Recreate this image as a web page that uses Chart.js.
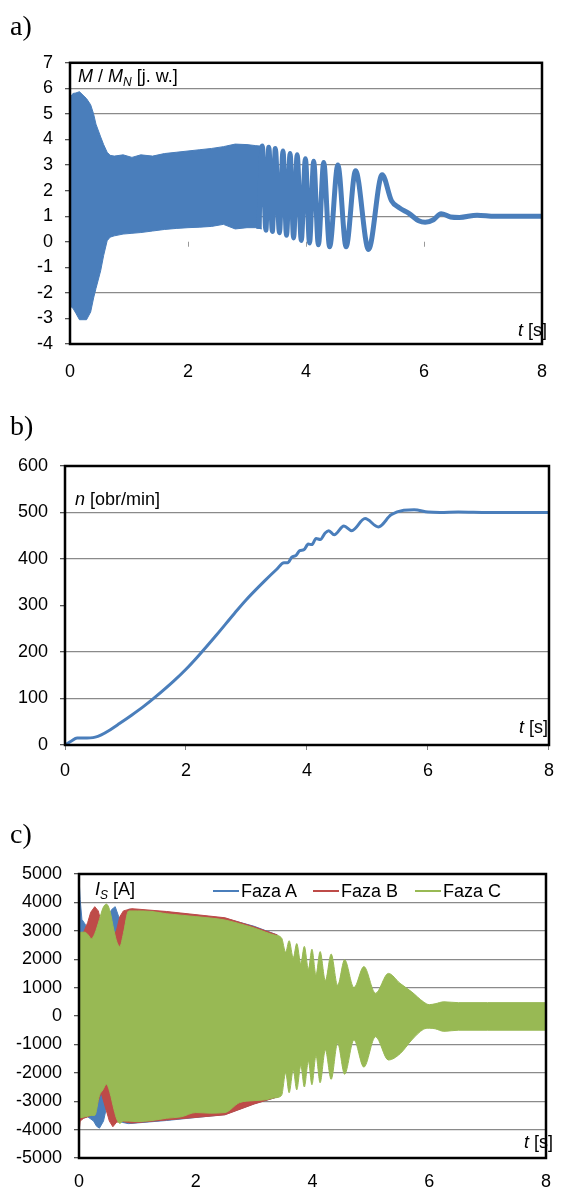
<!DOCTYPE html>
<html>
<head>
<meta charset="utf-8">
<script src="https://cdn.jsdelivr.net/npm/chart.js@4"></script>
<style>
body{margin:0;background:#fff;width:564px;height:1188px;position:relative;overflow:hidden;font-family:"Liberation Sans",Arial,sans-serif;}
canvas{position:absolute;left:0;}
.lbl{position:absolute;left:10px;font-family:"Liberation Serif","Times New Roman",serif;font-size:28px;line-height:30px;z-index:2;}
.txt{position:absolute;font-size:18px;line-height:20px;white-space:nowrap;z-index:2;}
.txt sub{font-size:12px;line-height:0;vertical-align:-4px;}
.leg{position:absolute;top:881px;font-size:18px;line-height:20px;white-space:nowrap;z-index:2;}
.leg span{display:inline-block;width:26px;height:2px;vertical-align:middle;margin-right:2px;position:relative;top:-1px;}
</style>
</head>
<body>
<div class="lbl" style="top:11px">a)</div>
<div class="lbl" style="top:411px">b)</div>
<div class="lbl" style="top:819px">c)</div>

<canvas id="chartA" width="564" height="345" style="top:40px"></canvas>
<canvas id="chartB" width="564" height="350" style="top:440px"></canvas>
<canvas id="chartC" width="564" height="338" style="top:850px"></canvas>

<div class="txt" style="left:78px;top:66px"><i>M</i> / <i>M</i><sub><i>N</i></sub> [j. w.]</div>
<div class="txt" style="right:17px;top:320px"><i>t</i> [s]</div>
<div class="txt" style="left:75px;top:489px"><i>n</i> [obr/min]</div>
<div class="txt" style="right:16px;top:717px"><i>t</i> [s]</div>
<div class="txt" style="left:95px;top:879px"><i>I</i><sub><i>S</i></sub> [A]</div>
<div class="txt" style="right:11px;top:1132px"><i>t</i> [s]</div>

<div class="leg" style="left:213px"><span style="background:#4a7ebb"></span>Faza A</div>
<div class="leg" style="left:313px"><span style="background:#be4b48"></span>Faza B</div>
<div class="leg" style="left:415px"><span style="background:#98b954"></span>Faza C</div>

<script>
// a) moment - gesty obszar jako pas miedzy obwiedniami, potem widoczne wahania
var tBand = [0, 0.02, 0.05, 0.1, 0.16, 0.28, 0.35, 0.4, 0.44, 0.52, 0.57, 0.63, 0.68, 0.75, 0.9, 1.05, 1.2, 1.4, 1.6, 1.8, 2.0, 2.2, 2.4, 2.6, 2.8, 3.0, 3.15, 3.25];
var mUpper = [5.5, 5.7, 5.8, 5.82, 5.87, 5.6, 5.36, 5.0, 4.6, 4.1, 3.8, 3.5, 3.38, 3.35, 3.4, 3.3, 3.4, 3.35, 3.45, 3.5, 3.55, 3.6, 3.65, 3.72, 3.82, 3.8, 3.76, 3.74];
var mLower = [-2.5, -2.55, -2.6, -2.8, -3.05, -3.05, -2.75, -2.2, -1.83, -1.13, -0.54, 0.04, 0.18, 0.23, 0.3, 0.33, 0.36, 0.42, 0.48, 0.52, 0.55, 0.57, 0.6, 0.68, 0.5, 0.55, 0.55, 0.5];
var tOsc = [3.2, 3.26, 3.32, 3.37, 3.43, 3.48, 3.55, 3.61, 3.67, 3.73, 3.79, 3.85, 3.92, 3.99, 4.06, 4.13, 4.21, 4.30, 4.40, 4.54, 4.68, 4.84, 5.06, 5.29, 5.45, 5.58, 5.75, 5.91, 6.02, 6.16, 6.29, 6.45, 6.6, 6.9, 7.2, 8.0];
var mOsc = [0.5, 3.75, 0.45, 3.7, 0.4, 3.65, 0.35, 3.55, 0.25, 3.45, 0.15, 3.4, 0.05, 3.25, -0.05, 3.15, -0.12, 3.1, -0.2, 3.0, -0.2, 2.78, -0.3, 2.62, 1.6, 1.33, 1.1, 0.82, 0.76, 0.86, 1.1, 0.97, 0.95, 1.04, 1.0, 1.0];

// b) predkosc obrotowa
var tSpeed = [0, 0.1, 0.2, 0.3, 0.5, 0.6, 0.75, 0.9, 1.1, 1.3, 1.5, 1.8, 2.0, 2.2, 2.5, 2.8, 3.0, 3.3, 3.5, 3.62, 3.68, 3.75, 3.82, 3.88, 3.95, 4.02, 4.08, 4.15, 4.22, 4.3, 4.36, 4.45, 4.61, 4.74, 4.96, 5.18, 5.39, 5.6, 5.77, 6.0, 6.2, 6.5, 7.0, 8.0];
var nSpeed = [0, 8, 15, 15, 17, 22, 33, 46, 64, 83, 104, 138, 163, 191, 236, 283, 313, 353, 378, 392, 392, 404, 408, 418, 420, 432, 431, 444, 442, 456, 461, 452, 471, 461, 487, 469, 495, 505, 506, 501, 500, 501, 500, 500];

// c) prady fazowe - obwiednie
var tC = [0, 0.03, 0.1, 0.16, 0.21, 0.27, 0.35, 0.41, 0.47, 0.53, 0.6, 0.65, 0.7, 0.76, 0.85, 1.0, 1.25, 1.5, 1.75, 2.0, 2.25, 2.5, 2.75, 3.0, 3.2, 3.35, 3.47, 3.54, 3.6, 3.67, 3.73, 3.8, 3.86, 3.93, 3.99, 4.06, 4.13, 4.22, 4.32, 4.43, 4.55, 4.71, 4.88, 5.08, 5.3, 5.5, 5.7, 5.9, 6.0, 6.1, 6.25, 6.5, 7.0, 8.0];
var cUp = [2900, 2950, 2950, 2850, 2720, 2900, 3400, 3800, 3940, 3700, 3000, 2600, 2450, 2900, 3700, 3700, 3680, 3600, 3550, 3500, 3450, 3380, 3250, 3100, 2950, 2850, 2750, 2250, 2650, 2050, 2550, 1850, 2450, 1650, 2350, 1450, 2270, 1250, 2180, 1080, 1980, 1000, 1740, 800, 1500, 1150, 850, 500, 400, 430, 500, 470, 470, 470];
var cLow = [-3600, -3580, -3550, -3520, -3500, -3500, -2800, -2600, -2400, -2700, -3300, -3650, -3780, -3700, -3700, -3720, -3680, -3600, -3550, -3400, -3420, -3400, -3050, -2980, -2950, -2880, -2800, -2000, -2700, -1900, -2600, -1750, -2500, -1600, -2420, -1400, -2350, -1200, -2230, -960, -2050, -845, -1800, -730, -1550, -1330, -845, -470, -430, -450, -540, -500, -500, -500];
var tA = [0, 0.02, 0.05, 0.1, 0.15, 0.25, 0.3, 0.35, 0.42, 0.5, 0.56, 0.62, 0.68, 0.75, 0.85, 1.5, 2.5, 3.0, 3.4];
var aUp = [4900, 4100, 3400, 3250, 3050, 2900, 2800, 2900, 3300, 3500, 3750, 3850, 3500, 3300, 3760, 3660, 3440, 3160, 2850];
var aLow = [-3700, -3650, -3600, -3580, -3550, -3700, -3880, -3950, -3700, -2950, -3000, -3400, -3700, -3750, -3790, -3680, -3470, -3090, -2850];
var tB = [0, 0.02, 0.08, 0.15, 0.2, 0.27, 0.33, 0.38, 0.45, 0.52, 0.58, 0.64, 0.7, 0.76, 0.9, 1.5, 2.5, 3.0, 3.4];
var bUp = [2800, 2900, 2950, 3300, 3650, 3850, 3700, 3300, 2800, 2600, 2800, 3000, 3500, 3700, 3780, 3680, 3460, 3140, 2850];
var bLow = [-4100, -3700, -3600, -3550, -3500, -3400, -3000, -2700, -3200, -3700, -3900, -3750, -3700, -3720, -3770, -3660, -3480, -3100, -2850];

var blue = "#4a7ebb", red = "#be4b48", green = "#98b954";

Chart.defaults.font.family = '"Liberation Sans", Arial, sans-serif';
Chart.defaults.font.size = 18;
Chart.defaults.color = "#000";

function pts(xs, ys) {
  return xs.map(function (x, i) { return { x: x, y: ys[i] }; });
}

var frame = {
  id: "frame",
  afterDatasetsDraw: function (chart) {
    var a = chart.chartArea, c = chart.ctx;
    c.save();
    c.strokeStyle = "#000";
    c.lineWidth = 2.5;
    c.strokeRect(a.left, a.top, a.right - a.left, a.bottom - a.top);
    c.restore();
  }
};

// kreski podzialki osi czasu lezacej na wartosci 0
var zeroTicks = {
  id: "zeroTicks",
  afterDatasetsDraw: function (chart) {
    var sx = chart.scales.x, sy = chart.scales.y, c = chart.ctx;
    var y0 = sy.getPixelForValue(0);
    c.save();
    c.strokeStyle = "#9a9a9a";
    c.lineWidth = 1;
    sx.ticks.forEach(function (t) {
      if (t.value <= 0 || t.value >= 8) return;
      var px = Math.round(sx.getPixelForValue(t.value)) + 0.5;
      c.beginPath();
      c.moveTo(px, y0);
      c.lineTo(px, y0 + 5);
      c.stroke();
    });
    c.restore();
  }
};

function plain(v) { return String(v); }

function scales(yMin, yMax, yStep, grids, yWidth, xHeight, xPad, xTicks) {
  return {
    x: {
      type: "linear", min: 0, max: 8,
      ticks: { stepSize: 2, padding: xPad, callback: plain },
      grid: { drawOnChartArea: false, drawTicks: xTicks, tickLength: 5, tickColor: "#7f7f7f" },
      border: { display: false },
      afterFit: function (s) { s.height = xHeight; }
    },
    y: {
      min: yMin, max: yMax,
      ticks: { stepSize: yStep, padding: 12, callback: plain },
      grid: {
        color: function (ctx) { return grids.indexOf(ctx.tick.value) >= 0 ? "#8a8a8a" : "rgba(0,0,0,0)"; },
        lineWidth: 1.3, tickLength: 5, tickColor: "#555"
      },
      border: { display: false },
      afterFit: function (s) { s.width = yWidth; }
    }
  };
}

function base(padTop, padRight, sc) {
  return {
    responsive: false,
    animation: false,
    layout: { padding: { top: padTop, right: padRight, left: 0, bottom: 0 } },
    plugins: { legend: { display: false }, tooltip: { enabled: false } },
    elements: { point: { radius: 0 } },
    scales: sc
  };
}

var chartA = new Chart(document.getElementById("chartA"), {
  type: "line",
  data: {
    datasets: [
      { data: pts(tOsc, mOsc), borderColor: blue, borderWidth: 5, cubicInterpolationMode: "monotone", fill: false },
      { data: pts(tBand, mUpper), borderColor: blue, backgroundColor: blue, borderWidth: 1, fill: "+1" },
      { data: pts(tBand, mLower), borderColor: blue, borderWidth: 1, fill: false }
    ]
  },
  options: base(21, 7, scales(-4, 7, 1, [6, 5, 3, 1, -2], 70, 41, 17, false)),
  plugins: [zeroTicks, frame]
});

var chartB = new Chart(document.getElementById("chartB"), {
  type: "line",
  data: {
    datasets: [
      { data: pts(tSpeed, nSpeed), borderColor: blue, borderWidth: 3, cubicInterpolationMode: "monotone", fill: false }
    ]
  },
  options: base(26, 7, scales(0, 600, 100, [500, 400, 200, 100], 65, 45, 10, true)),
  plugins: [frame]
});

var chartC = new Chart(document.getElementById("chartC"), {
  type: "line",
  data: {
    datasets: [
      { data: pts(tC, cUp), borderColor: green, backgroundColor: green, borderWidth: 1, cubicInterpolationMode: "monotone", fill: "+1" },
      { data: pts(tC, cLow), borderColor: green, borderWidth: 1, cubicInterpolationMode: "monotone", fill: false },
      { data: pts(tB, bUp), borderColor: red, backgroundColor: red, borderWidth: 1, fill: "+1" },
      { data: pts(tB, bLow), borderColor: red, borderWidth: 1, fill: false },
      { data: pts(tA, aUp), borderColor: blue, backgroundColor: blue, borderWidth: 1, fill: "+1" },
      { data: pts(tA, aLow), borderColor: blue, borderWidth: 1, fill: false }
    ]
  },
  options: base(24, 6, scales(-5000, 5000, 1000, [4000, 3000, 2000, 1000, -1000, -2000, -3000, -4000], 79, 30, 13, false)),
  plugins: [frame]
});
</script>
</body>
</html>
